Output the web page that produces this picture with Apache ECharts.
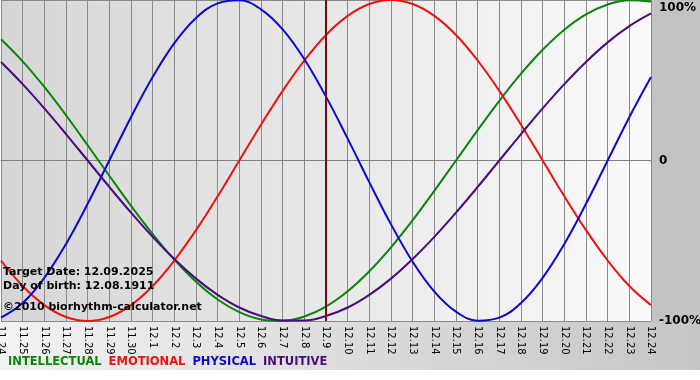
<!DOCTYPE html>
<html>
<head>
<meta charset="utf-8">
<script src="https://cdn.jsdelivr.net/npm/echarts@6/dist/echarts.min.js"></script>
<style>
  html, body { margin: 0; padding: 0; background: #fff; }
  #chart { width: 700px; height: 380px; }
</style>
</head>
<body>
<div id="chart"></div>
<script>
// days shown on the x axis (month.day)
const days = [
  "11.24", "11.25", "11.26", "11.27", "11.28", "11.29", "11.30",
  "12.1", "12.2", "12.3", "12.4", "12.5", "12.6", "12.7", "12.8", "12.9",
  "12.10", "12.11", "12.12", "12.13", "12.14", "12.15", "12.16", "12.17",
  "12.18", "12.19", "12.20", "12.21", "12.22", "12.23", "12.24"
];
const targetDay = "12.9";

// cycle values, -1 .. 1
const intellectual = [0.756, 0.618, 0.458, 0.282, 0.095, -0.095, -0.282, -0.458, -0.618, -0.756, -0.866, -0.945, -0.990, -0.999, -0.972, -0.910, -0.815, -0.690, -0.541, -0.372, -0.189, 0, 0.189, 0.372, 0.541, 0.690, 0.815, 0.910, 0.972, 0.999, 0.990];
const emotional = [-0.623, -0.782, -0.901, -0.975, -1, -0.975, -0.901, -0.782, -0.623, -0.434, -0.223, 0, 0.223, 0.434, 0.623, 0.782, 0.901, 0.975, 1, 0.975, 0.901, 0.782, 0.623, 0.434, 0.223, 0, -0.223, -0.434, -0.623, -0.782, -0.901];
const physical = [-0.979, -0.888, -0.731, -0.520, -0.270, 0, 0.270, 0.520, 0.731, 0.888, 0.979, 0.998, 0.942, 0.817, 0.631, 0.398, 0.136, -0.136, -0.398, -0.631, -0.817, -0.942, -0.998, -0.979, -0.888, -0.731, -0.520, -0.270, 0, 0.270, 0.520];
const intuitive = [0.614, 0.476, 0.325, 0.165, 0, -0.165, -0.325, -0.476, -0.614, -0.736, -0.837, -0.916, -0.969, -0.997, -0.997, -0.969, -0.916, -0.837, -0.736, -0.614, -0.476, -0.325, -0.165, 0, 0.165, 0.325, 0.476, 0.614, 0.736, 0.837, 0.916];

const yTicks = { "1": "{top|100%}", "0": "0", "-1": "-100%" };
const infoLines = ["Target Date: 12.09.2025", "Day of birth: 12.08.1911"];
const copyright = "\u00a92010 biorhythm-calculator.net";

const FONT = "'DejaVu Sans', Verdana, sans-serif";
const colors = {
  INTELLECTUAL: "#0b840b",
  EMOTIONAL: "#ee1111",
  PHYSICAL: "#0a0acc",
  INTUITIVE: "#4a0a80",
};

const chart = echarts.init(document.getElementById("chart"), null, { renderer: "canvas" });

const lineSeries = (name, data) => ({
  name,
  type: "line",
  data,
  smooth: 0.4,
  symbol: "none",
  lineStyle: { color: colors[name], width: 2 },
  itemStyle: { color: colors[name] },
  z: 3,
});

chart.setOption({
  backgroundColor: "#fff",
  animation: false,
  textStyle: { fontFamily: FONT },
  grid: {
    show: true,
    left: 1,
    right: 49,
    top: 0,
    bottom: 59,
    containLabel: false,
    outerBoundsMode: "none",
    borderWidth: 0,
    backgroundColor: {
      type: "linear", x: 0, y: 0, x2: 1, y2: 0,
      colorStops: [
        { offset: 0, color: "#d6d6d6" },
        { offset: 1, color: "#fafafa" },
      ],
    },
  },
  legend: {
    left: 3,
    top: 356,
    padding: 0,
    icon: "none",
    itemWidth: 0,
    itemHeight: 0,
    itemGap: 2,
    selectedMode: false,
    textStyle: { fontFamily: FONT, fontWeight: "bold", fontSize: 11.5, padding: 0 },
    data: Object.keys(colors).map((n) => ({ name: n, textStyle: { color: colors[n] } })),
  },
  xAxis: {
    type: "category",
    data: days,
    boundaryGap: false,
    axisLine: { lineStyle: { color: "#808080", width: 1 } },
    axisTick: { show: true, length: 4, interval: 0, lineStyle: { color: "#808080" } },
    splitLine: { show: true, interval: 0, lineStyle: { color: "#8a8a8a", width: 1 } },
    axisLabel: {
      interval: 0,
      rotate: -90,
      margin: 5,
      fontSize: 10,
      color: "#000",
      fontFamily: FONT,
    },
  },
  yAxis: {
    type: "value",
    position: "right",
    min: -1,
    max: 1,
    interval: 1,
    axisLine: { show: false },
    axisTick: { show: false },
    splitLine: { show: true, lineStyle: { color: "#8a8a8a", width: 1 } },
    axisLabel: {
      margin: 8,
      fontSize: 12,
      fontWeight: "bold",
      color: "#000",
      fontFamily: FONT,
      formatter: (v) => yTicks[String(v)],
      rich: {
        top: { fontSize: 12, fontWeight: "bold", color: "#000", fontFamily: FONT, padding: [15, 0, 0, 0] },
      },
    },
  },
  graphic: [
    {
      type: "rect",
      z: -100,
      silent: true,
      shape: { x: 651, y: 0, width: 49, height: 322 },
      style: { fill: "#c3c3c3" },
    },
    {
      type: "rect",
      z: -100,
      silent: true,
      shape: { x: 0, y: 322, width: 700, height: 48 },
      style: {
        fill: {
          type: "linear", x: 0, y: 0, x2: 1, y2: 0,
          colorStops: [
            { offset: 0, color: "#f2f2f2" },
            { offset: 1, color: "#c6c6c6" },
          ],
        },
      },
    },
    {
      type: "text",
      z: 100,
      silent: true,
      left: 3,
      top: 265,
      style: {
        text: infoLines.join("\n"),
        font: "bold 11px " + FONT,
        fill: "#000",
        lineHeight: 14,
      },
    },
    {
      type: "text",
      z: 100,
      silent: true,
      left: 3,
      top: 302,
      style: {
        text: copyright,
        font: "bold 11px " + FONT,
        fill: "#000",
      },
    },
  ],
  series: [
    lineSeries("INTELLECTUAL", intellectual),
    lineSeries("EMOTIONAL", emotional),
    lineSeries("PHYSICAL", physical),
    Object.assign(lineSeries("INTUITIVE", intuitive), {
      markLine: {
        silent: true,
        symbol: "none",
        label: { show: false },
        lineStyle: { color: "#7a0a0a", width: 2, type: "solid" },
        data: [{ xAxis: targetDay }],
      },
    }),
  ],
});
</script>
</body>
</html>
